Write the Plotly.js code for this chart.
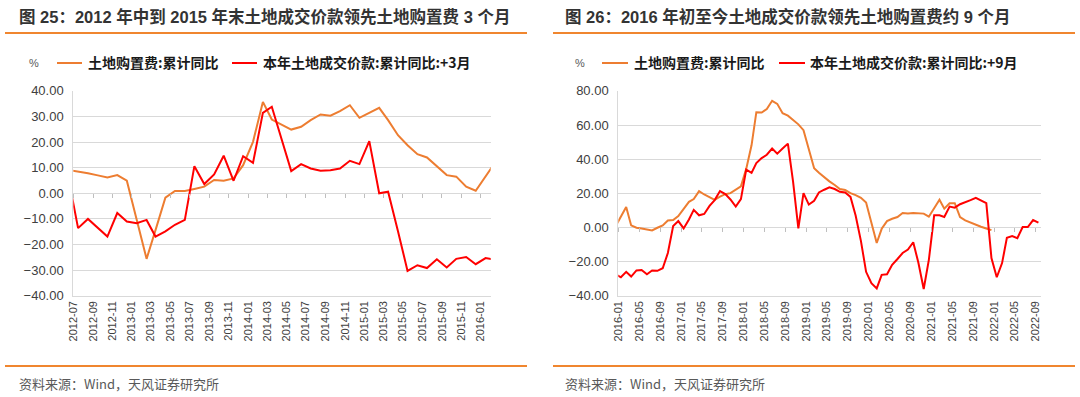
<!DOCTYPE html>
<html>
<head>
<meta charset="utf-8">
<script src="https://cdn.plot.ly/plotly-3.0.1.min.js"></script>
<style>html,body{margin:0;padding:0;background:#fff;}#chart{width:1080px;height:397px;}</style>
</head>
<body>
<div id="chart"></div>
<script>
// ---------- Left panel data (图25) ----------
const leftMonths = ['2012-06','2012-07','2012-08','2012-09','2012-10','2012-11','2012-12',
  '2013-01','2013-02','2013-03','2013-04','2013-05','2013-06','2013-07','2013-08','2013-09','2013-10','2013-11','2013-12',
  '2014-01','2014-02','2014-03','2014-04','2014-05','2014-06','2014-07','2014-08','2014-09','2014-10','2014-11','2014-12',
  '2015-01','2015-02','2015-03','2015-04','2015-05','2015-06','2015-07','2015-08','2015-09','2015-10','2015-11','2015-12',
  '2016-01','2016-02'];
const leftLandPurchase = [9.1, 8.6, 7.8, 7.0, 6.2, 7.1, 4.9, -10.3, -25.6, -14.4, -1.7, 0.9, 0.9, 1.7, 2.6, 5.2, 4.9, 5.8,
  11.0, 20.1, 35.7, 28.8, 26.9, 24.9, 26.0, 28.6, 30.8, 30.3, 32.1, 34.4, 29.5, 31.6, 33.4, 28.6, 22.7, 18.8, 15.3, 14.0,
  10.4, 7.1, 6.5, 2.6, 1.0, 6.6, 12.2];
const leftLandDeal = [5.8, -13.6, -10.0, -13.4, -16.9, -7.7, -11.0, -11.7, -10.4, -16.9, -14.9, -12.3, -10.4, 10.6, 3.6,
  7.4, 14.7, 4.9, 14.5, 11.9, 31.4, 33.8, 21.3, 8.7, 11.4, 9.7, 8.8, 9.0, 9.7, 12.7, 11.4, 20.4, 0.0, 0.6, -14.8, -30.3,
  -28.1, -29.2, -25.8, -29.0, -25.6, -24.9, -27.7, -25.3, -26.0];

// ---------- Right panel data (图26) ----------
const rightMonths = ['2015-12',
  '2016-01','2016-02','2016-03','2016-04','2016-05','2016-06','2016-07','2016-08','2016-09','2016-10','2016-11','2016-12',
  '2017-01','2017-02','2017-03','2017-04','2017-05','2017-06','2017-07','2017-08','2017-09','2017-10','2017-11','2017-12',
  '2018-01','2018-02','2018-03','2018-04','2018-05','2018-06','2018-07','2018-08','2018-09','2018-10','2018-11','2018-12',
  '2019-01','2019-02','2019-03','2019-04','2019-05','2019-06','2019-07','2019-08','2019-09','2019-10','2019-11','2019-12',
  '2020-01','2020-02','2020-03','2020-04','2020-05','2020-06','2020-07','2020-08','2020-09','2020-10','2020-11','2020-12',
  '2021-01','2021-02','2021-03','2021-04','2021-05','2021-06','2021-07','2021-08','2021-09','2021-10','2021-11','2021-12',
  '2022-01','2022-02','2022-03','2022-04','2022-05','2022-06','2022-07','2022-08','2022-09'];
const rightLandPurchase = [0.6,
  6.3, 12.0, 1.2, -0.2, -0.6, -1.2, -1.8, -0.2, 1.2, 4.1, 4.3, 6.7,
  11.0, 15.0, 16.6, 21.3, 19.3, 17.6, 16.2, 18.1, 19.5, 20.1, 22.1, 24.1,
  34.3, 48.1, 67.5, 67.3, 69.4, 74.2, 72.4, 66.9, 65.5, 62.9, 60.4, 57.0,
  46.2, 34.7, 32.0, 29.4, 27.0, 24.9, 22.5, 21.9, 20.1, 18.9, 17.4, 14.6,
  3.0, -9.1, -0.8, 3.7, 5.1, 6.1, 8.5, 8.1, 8.5, 8.5, 8.1, 6.3,
  11.2, 16.2, 11.0, 14.2, 14.2, 6.1, 4.1, 2.8, 1.2, 0.4, -0.6, -1.6,
  null, null, null, null, null, null, null, null, null];
const rightLandDeal = [-27.5,
  -29.2, -26.0, -28.8, -25.2, -24.9, -27.4, -25.2, -25.4, -23.9, -15.0, 0.8, 3.7,
  -0.6, 4.7, 10.3, 7.1, 7.9, 12.6, 16.0, 21.3, 19.5, 16.4, 12.2, 16.6,
  33.9, 32.0, 37.7, 40.6, 42.6, 46.2, 43.2, 46.2, 49.1, 27.0, -0.6, 20.1,
  13.4, 15.6, 20.5, 22.1, 23.5, 22.5, 20.9, 20.5, 17.9, 7.0, -8.0, -26.0,
  -32.7, -35.7, -27.8, -27.4, -21.9, -18.5, -15.0, -13.0, -8.7, -20.7, -36.1, -19.0,
  7.1, 7.1, 6.1, 12.2, 11.6, 13.6, 14.6, 16.0, 17.4, 15.6, 14.2, -17.9,
  -29.2, -20.9, -6.1, -5.1, -6.3, 0.2, 0.2, 4.3, 2.8];

const seriesNames = ['土地购置费:累计同比', '本年土地成交价款:累计同比:+3月', '本年土地成交价款:累计同比:+9月'];
const titles = ['图 25：2012 年中到 2015 年末土地成交价款领先土地购置费 3 个月',
                '图 26：2016 年初至今土地成交价款领先土地购置费约 9 个月'];
const sourceText = '资料来源：Wind，天风证券研究所';

// ---------- styling ----------
const W = 1080, H = 397;
const px = x => x / W;
const py = y => 1 - y / H;
const ORANGE = '#ED7D31', RED = '#FF0000', GRID = '#D9D9D9', ACCENT = '#F0862F';
const CJK = '"Noto Sans CJK SC", "Liberation Sans", sans-serif';
const LAT = '"Liberation Sans", "Noto Sans CJK SC", sans-serif';
const mid = m => m + '-16';

const leftX = leftMonths.map(mid);
const rightX = rightMonths.map(mid);

const traces = [
  {x: leftX, y: leftLandPurchase, xaxis: 'x', yaxis: 'y', mode: 'lines', line: {color: ORANGE, width: 2}, name: seriesNames[0]},
  {x: leftX, y: leftLandDeal, xaxis: 'x', yaxis: 'y', mode: 'lines', line: {color: RED, width: 2}, name: seriesNames[1]},
  {x: rightX, y: rightLandPurchase, xaxis: 'x2', yaxis: 'y2', mode: 'lines', line: {color: ORANGE, width: 2}, name: seriesNames[0], connectgaps: false},
  {x: rightX, y: rightLandDeal, xaxis: 'x2', yaxis: 'y2', mode: 'lines', line: {color: RED, width: 2}, name: seriesNames[2]},
  {x: [], y: [], xaxis: 'x3', yaxis: 'y', mode: 'lines', showlegend: false},
  {x: [], y: [], xaxis: 'x4', yaxis: 'y2', mode: 'lines', showlegend: false}
];

const leftDom = [px(73.3), px(490.7)];
const rightDom = [px(618.3), px(1041)];
const yDom = [py(295.7), py(90.9)];
const leftRange = ['2012-07-01', '2016-02-01'];
const rightRange = ['2016-01-01', '2022-10-01'];

const xBase = {
  type: 'date', tickformat: '%Y-%m', tickangle: -90,
  tickfont: {family: LAT, size: 11, color: '#404040'},
  showgrid: false, zeroline: false, showline: true, linecolor: GRID, linewidth: 1,
  ticks: '', fixedrange: true
};
const yBase = {
  tickformat: '.2f', tickfont: {family: LAT, size: 13, color: '#404040'},
  showgrid: true, gridcolor: GRID, gridwidth: 1, zeroline: false,
  showline: true, linecolor: GRID, linewidth: 1, ticks: '', ticklabelstandoff: 6, fixedrange: true
};
const tickAxis = {
  type: 'date', anchor: 'free', showticklabels: false, showgrid: false, zeroline: false, showline: false,
  ticks: 'outside', ticklen: 4, tickwidth: 1, tickcolor: '#BFBFBF', fixedrange: true
};

const annotations = [
  {text: titles[0], x: px(17), y: py(16), xanchor: 'left', yanchor: 'middle',
   font: {family: LAT, size: 16.5, color: '#333333', weight: 'bold'}},
  {text: titles[1], x: px(563), y: py(16), xanchor: 'left', yanchor: 'middle',
   font: {family: LAT, size: 16.5, color: '#333333', weight: 'bold'}},
  {text: '%', x: px(34), y: py(63), xanchor: 'center', yanchor: 'middle', font: {family: LAT, size: 11, color: '#595959'}},
  {text: '%', x: px(580), y: py(63), xanchor: 'center', yanchor: 'middle', font: {family: LAT, size: 11, color: '#595959'}},
  {text: seriesNames[0], x: px(86), y: py(62), xanchor: 'left', yanchor: 'middle', font: {family: CJK, size: 14, color: '#1A1A1A', weight: 'bold'}},
  {text: seriesNames[1], x: px(261), y: py(62), xanchor: 'left', yanchor: 'middle', font: {family: CJK, size: 14, color: '#1A1A1A', weight: 'bold'}},
  {text: seriesNames[0], x: px(632), y: py(62), xanchor: 'left', yanchor: 'middle', font: {family: CJK, size: 14, color: '#1A1A1A', weight: 'bold'}},
  {text: seriesNames[2], x: px(808), y: py(62), xanchor: 'left', yanchor: 'middle', font: {family: CJK, size: 14, color: '#1A1A1A', weight: 'bold'}},
  {text: sourceText, x: px(17), y: py(383), xanchor: 'left', yanchor: 'middle', font: {family: CJK, size: 13, color: '#595959'}},
  {text: sourceText, x: px(563), y: py(383), xanchor: 'left', yanchor: 'middle', font: {family: CJK, size: 13, color: '#595959'}}
].map(a => Object.assign({xref: 'paper', yref: 'paper', showarrow: false}, a));

const hline = (x0, x1, y, color, w) => ({type: 'line', xref: 'paper', yref: 'paper',
  x0: px(x0), x1: px(x1), y0: py(y), y1: py(y), line: {color: color, width: w}});
const shapes = [
  hline(5, 527, 33, ACCENT, 2), hline(553, 1075, 33, ACCENT, 2),
  hline(5, 527, 366, ACCENT, 2), hline(553, 1075, 366, ACCENT, 2),
  hline(57, 82, 63, ORANGE, 2), hline(232, 257, 63, RED, 2),
  hline(602, 628, 63, ORANGE, 2), hline(779, 805, 63, RED, 2)
];

const layout = {
  width: W, height: H, margin: {l: 0, r: 0, t: 0, b: 0},
  paper_bgcolor: '#FFFFFF', plot_bgcolor: '#FFFFFF', showlegend: false,
  xaxis: Object.assign({}, xBase, {domain: leftDom, anchor: 'y', range: leftRange, tick0: '2012-07-01', dtick: 'M2'}),
  yaxis: Object.assign({}, yBase, {domain: yDom, anchor: 'x', range: [-40, 40], dtick: 10}),
  xaxis2: Object.assign({}, xBase, {domain: rightDom, anchor: 'y2', range: rightRange, tick0: '2016-01-01', dtick: 'M4'}),
  yaxis2: Object.assign({}, yBase, {domain: yDom, anchor: 'x2', range: [-40, 80], dtick: 20}),
  xaxis3: Object.assign({}, tickAxis, {overlaying: 'x', domain: leftDom, range: leftRange, tick0: '2012-07-01', dtick: 'M2',
    position: yDom[0] + (yDom[1] - yDom[0]) * 0.5}),
  xaxis4: Object.assign({}, tickAxis, {overlaying: 'x2', domain: rightDom, range: rightRange, tick0: '2016-01-01', dtick: 'M4',
    position: yDom[0] + (yDom[1] - yDom[0]) * (40 / 120)}),
  annotations: annotations,
  shapes: shapes
};

Plotly.newPlot('chart', traces, layout, {staticPlot: true, displayModeBar: false});
</script>
</body>
</html>
